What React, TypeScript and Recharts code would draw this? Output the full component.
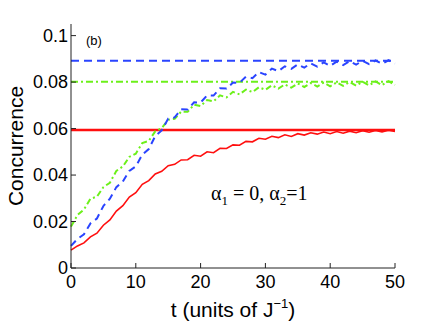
import React from 'react';
import { LineChart, Line, XAxis, YAxis, ReferenceLine } from 'recharts';

// time in units of 1/J
const times = [
    0, 1, 2, 3, 4, 5, 6, 7, 8, 9, 10, 11, 12, 13, 14, 15, 16, 17, 18, 19, 20, 21, 22, 23, 24, 25,
    26, 27, 28, 29, 30, 31, 32, 33, 34, 35, 36, 37, 38, 39, 40, 41, 42, 43, 44, 45, 46, 47, 48, 49, 50,
];

const redCurve = [
    0.0077, 0.0095, 0.0108, 0.0134, 0.015, 0.0184, 0.0207, 0.0245, 0.0268, 0.0305, 0.0324, 0.036,
    0.0376, 0.0405, 0.0416, 0.044, 0.0446, 0.0465, 0.0466, 0.0485, 0.0481, 0.05, 0.0496, 0.0515,
    0.0514, 0.053, 0.0528, 0.0545, 0.0543, 0.0558, 0.0554, 0.0567, 0.0561, 0.0573, 0.0566, 0.0578,
    0.0572, 0.0582, 0.0576, 0.0585, 0.0578, 0.0587, 0.058, 0.0589, 0.0582, 0.0591, 0.0584, 0.0592,
    0.0586, 0.0593, 0.0587,
];

const blueCurve = [
    0.0095, 0.0125, 0.0145, 0.0192, 0.0213, 0.0267, 0.0298, 0.0348, 0.0372, 0.0418, 0.0437, 0.0488,
    0.0512, 0.0568, 0.0592, 0.0643, 0.0648, 0.0683, 0.0682, 0.0713, 0.0712, 0.0743, 0.0742, 0.0773,
    0.0772, 0.0798, 0.0797, 0.0823, 0.0817, 0.0843, 0.0832, 0.0858, 0.0847, 0.0868, 0.0857, 0.0876,
    0.0862, 0.0881, 0.0867, 0.0885, 0.087, 0.0888, 0.0873, 0.089, 0.0875, 0.0892, 0.0877, 0.0893,
    0.0879, 0.0894, 0.088,
];

const greenCurve = [
    0.0178, 0.0228, 0.0252, 0.0298, 0.0307, 0.0348, 0.0367, 0.0418, 0.0437, 0.0478, 0.0492, 0.0538,
    0.0547, 0.0588, 0.0602, 0.0638, 0.0642, 0.0673, 0.0672, 0.0703, 0.0697, 0.0723, 0.0717, 0.0743,
    0.0734, 0.0758, 0.0747, 0.0768, 0.0757, 0.0778, 0.0767, 0.0786, 0.0772, 0.079, 0.0776, 0.0794,
    0.0779, 0.0796, 0.0781, 0.0798, 0.0782, 0.0799, 0.0784, 0.08, 0.0785, 0.0802, 0.0786, 0.0803,
    0.0787, 0.0804, 0.0788,
];

// steady-state levels (horizontal lines)
const redLevel = 0.0594;
const greenLevel = 0.0801;
const blueLevel = 0.0892;

const xTicks = [0, 10, 20, 30, 40, 50];
const yTicks = [0, 0.02, 0.04, 0.06, 0.08, 0.1];

const RED = '#ff0f0f';
const BLUE = '#2a44ff';
const GREEN = '#6cf01a';
const SANS = '"Liberation Sans", Arial, Helvetica, sans-serif';
const SERIF = '"Liberation Serif", "Times New Roman", serif';

const data = times.map((t, i) => ({
    t,
    red: redCurve[i],
    blue: blueCurve[i],
    green: greenCurve[i],
}));

function XTitle({ viewBox }: any) {
    const cx = viewBox.x + viewBox.width / 2;
    return (
        <text x={cx} y={viewBox.y + 49} textAnchor="middle" fontSize={21} fontFamily={SANS} fill="#000">
            t (units of J
            <tspan dy={-9} fontSize={13}>−1</tspan>
            <tspan dy={9}>)</tspan>
        </text>
    );
}

function YTitle() {
    return (
        <text
            x={23}
            y={146}
            transform="rotate(-90, 23, 146)"
            textAnchor="middle"
            fontSize={21}
            fontFamily={SANS}
            fill="#000"
        >
            Concurrence
        </text>
    );
}

export default function App() {
    const tickStyle = { fontSize: 18, fontFamily: SANS, fill: '#000' };

    return (
        <div style={{ position: 'absolute', left: 0, top: 0, width: 436, height: 324, background: '#fff' }}>
            <LineChart width={436} height={324} data={data} margin={{ top: 24, right: 41, bottom: 0, left: 0 }}>
                <XAxis
                    xAxisId="bottom"
                    dataKey="t"
                    type="number"
                    domain={[0, 50]}
                    ticks={xTicks}
                    height={56}
                    tickSize={-5}
                    tickMargin={12}
                    tick={tickStyle}
                    axisLine={{ stroke: '#222' }}
                    tickLine={{ stroke: '#222' }}
                    label={<XTitle />}
                />
                <XAxis
                    xAxisId="top"
                    orientation="top"
                    dataKey="t"
                    type="number"
                    domain={[0, 50]}
                    ticks={xTicks}
                    height={0}
                    tickSize={-5}
                    tick={false}
                    axisLine={{ stroke: '#888' }}
                    tickLine={{ stroke: '#888' }}
                />
                <YAxis
                    yAxisId="left"
                    type="number"
                    domain={[0, 0.105]}
                    ticks={yTicks}
                    allowDataOverflow
                    width={71}
                    tickSize={-5}
                    tickMargin={8}
                    tick={tickStyle}
                    axisLine={{ stroke: '#222' }}
                    tickLine={{ stroke: '#222' }}
                    label={<YTitle />}
                />
                <YAxis
                    yAxisId="right"
                    orientation="right"
                    type="number"
                    domain={[0, 0.105]}
                    ticks={yTicks}
                    allowDataOverflow
                    width={0}
                    tickSize={-5}
                    tick={false}
                    axisLine={{ stroke: '#888' }}
                    tickLine={{ stroke: '#888' }}
                />
                <ReferenceLine xAxisId="bottom" yAxisId="left" y={blueLevel} stroke={BLUE} strokeWidth={2} strokeDasharray="8 5" />
                <ReferenceLine xAxisId="bottom" yAxisId="left" y={greenLevel} stroke={GREEN} strokeWidth={2} strokeDasharray="7 3 2 3" />
                <ReferenceLine xAxisId="bottom" yAxisId="left" y={redLevel} stroke={RED} strokeWidth={2.5} />
                <Line
                    xAxisId="bottom"
                    yAxisId="left"
                    dataKey="green"
                    stroke={GREEN}
                    strokeWidth={2}
                    strokeDasharray="6 3 2 3"
                    dot={false}
                    type="linear"
                    isAnimationActive={false}
                />
                <Line
                    xAxisId="bottom"
                    yAxisId="left"
                    dataKey="blue"
                    stroke={BLUE}
                    strokeWidth={2}
                    strokeDasharray="7 5"
                    dot={false}
                    type="linear"
                    isAnimationActive={false}
                />
                <Line
                    xAxisId="bottom"
                    yAxisId="left"
                    dataKey="red"
                    stroke={RED}
                    strokeWidth={1.6}
                    dot={false}
                    type="linear"
                    isAnimationActive={false}
                />
            </LineChart>
            <svg
                width={436}
                height={324}
                style={{ position: 'absolute', left: 0, top: 0, pointerEvents: 'none' }}
            >
                <text x={86} y={45} fontSize={13} fontFamily={SANS} fill="#000">
                    (b)
                </text>
                <text x={211} y={200} fontSize={20} fontFamily={SERIF} fill="#000">
                    α
                    <tspan dy={5} fontSize={13}>1</tspan>
                    <tspan dy={-5}> = 0, α</tspan>
                    <tspan dy={5} fontSize={13}>2</tspan>
                    <tspan dy={-5}>=1</tspan>
                </text>
            </svg>
        </div>
    );
}
